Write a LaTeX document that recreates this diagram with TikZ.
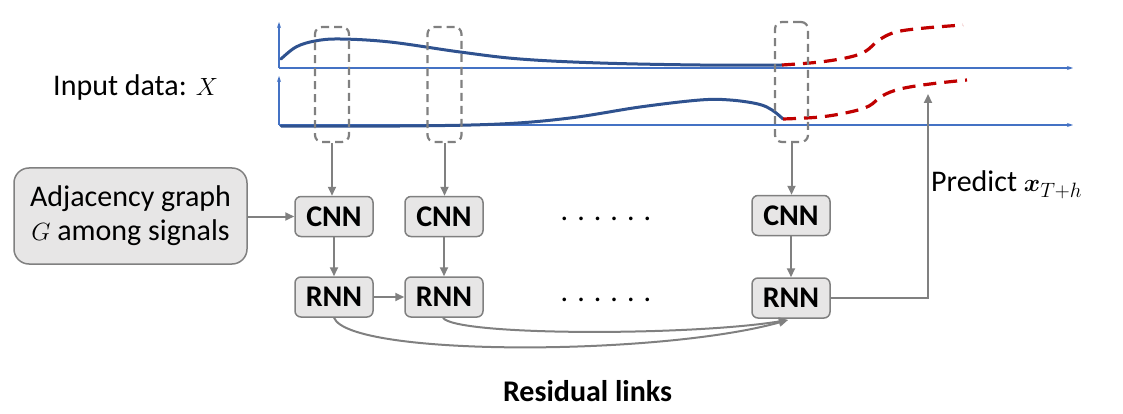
\documentclass[tikz,border=0pt]{standalone}
\usepackage{fontspec}
\usepackage{amsmath,bm}
\setmainfont{Carlito}
\usetikzlibrary{arrows.meta}
\definecolor{axisblue}{RGB}{68,114,196}
\definecolor{curveblue}{RGB}{47,82,143}
\definecolor{predred}{RGB}{192,0,0}
\definecolor{linegray}{RGB}{128,128,128}
\definecolor{boxfill}{RGB}{231,230,230}
\tikzset{
  axis/.style={axisblue, line width=1.1pt, -{Stealth[length=6pt,width=4pt]}},
  sig/.style={curveblue, line width=3pt, line cap=round},
  pred/.style={predred, line width=3.2pt, dash pattern=on 13pt off 8pt},
  win/.style={draw=linegray, line width=2.2pt, dash pattern=on 8pt off 5pt, rounded corners=7pt, minimum width=34pt, inner sep=0pt},
  netbox/.style={draw=linegray, fill=boxfill, line width=1.5pt, rounded corners=6pt, minimum width=78pt, minimum height=40pt, inner sep=0pt, font=\fontsize{30}{36}\selectfont\bfseries},
  conn/.style={linegray, line width=2pt, -{Triangle[length=9pt,width=8pt]}},
  dots/.style={inner sep=0pt}
}
\begin{document}
\begin{tikzpicture}[x=1pt,y=-1pt,font=\fontsize{30}{36}\selectfont]
\useasboundingbox (0,0) rectangle (1123,414);
% axes
\draw[axis] (279,68) -- (279,22);
\draw[axis] (279,68) -- (1073,68);
\draw[axis] (279,125) -- (279,76);
\draw[axis] (279,125) -- (1073,125);
% signals
\draw[sig] plot[smooth, tension=0.6] coordinates {(281,59) (296,47) (315,41) (340,39) (390,42) (460,52) (520,59) (600,63) (700,65) (782,65)};
\draw[sig] plot[smooth, tension=0.6] coordinates {(281,126) (400,126) (500,124) (570,118) (640,107) (700,100) (730,100) (758,104) (772,110) (783,119)};
\draw[pred] plot[smooth, tension=0.6] coordinates {(782,65) (820,62) (850,57) (866,51) (879,40) (896,32) (925,28) (963,25)};
\draw[pred] plot[smooth, tension=0.6] coordinates {(783,119) (820,117) (850,112) (869,106) (882,96) (900,89) (930,84) (967,80)};
% windows
\node[win, minimum height=115pt] (w1) at (332,84.5) {};
\node[win, minimum height=115pt] (w2) at (444.5,84.5) {};
\node[win, minimum width=33pt, minimum height=120pt] (w3) at (791.5,82) {};
% labels
\node[anchor=west, inner sep=0pt] (inp) at (53,88) {Input data: $X$};
% boxes
\node[draw=linegray, fill=boxfill, line width=1.5pt, rounded corners=15pt, minimum width=233pt, minimum height=96pt, align=center, inner sep=0pt] (adj) at (130.5,216) {Adjacency graph\\[-2pt]$G$ among signals};
\node[netbox] (c1) at (334,216.5) {CNN};
\node[netbox] (r1) at (334,297) {RNN};
\node[netbox] (c2) at (444,216.5) {CNN};
\node[netbox] (r2) at (444,297) {RNN};
\node[netbox] (c3) at (791,215.5) {CNN};
\node[netbox] (r3) at (791,298) {RNN};
\node[dots] (d1) at (606,219) {. . . . . .};
\node[dots] (d2) at (606,300) {. . . . . .};
\node[anchor=west, inner sep=0pt] (pr) at (931,185) {Predict $\bm{x}_{T+h}$};
\node[inner sep=0pt, font=\fontsize{30}{36}\selectfont\bfseries] (res) at (587.5,391) {Residual links};
% connectors
\draw[conn] (w1.south) -- (c1.north -| w1.south);
\draw[conn] (w2.south) -- (c2.north -| w2.south);
\draw[conn] (w3.south) -- (c3.north -| w3.south);
\draw[conn] (c1) -- (r1);
\draw[conn] (c2) -- (r2);
\draw[conn] (c3) -- (r3);
\draw[conn] (adj.east |- c1) -- (c1.west);
\draw[conn] (r1) -- (r2);
\coordinate (tip) at (928,94);
\draw[conn] (r3.east) -| (tip);
\coordinate (rt) at (788,320);
\draw[conn] ([xshift=-1pt]r2.south) .. controls (455,336) and (690,336) .. (rt);
\draw[conn] (r1.south) .. controls (350,357) and (660,356) .. (rt);
\end{tikzpicture}
\end{document}
